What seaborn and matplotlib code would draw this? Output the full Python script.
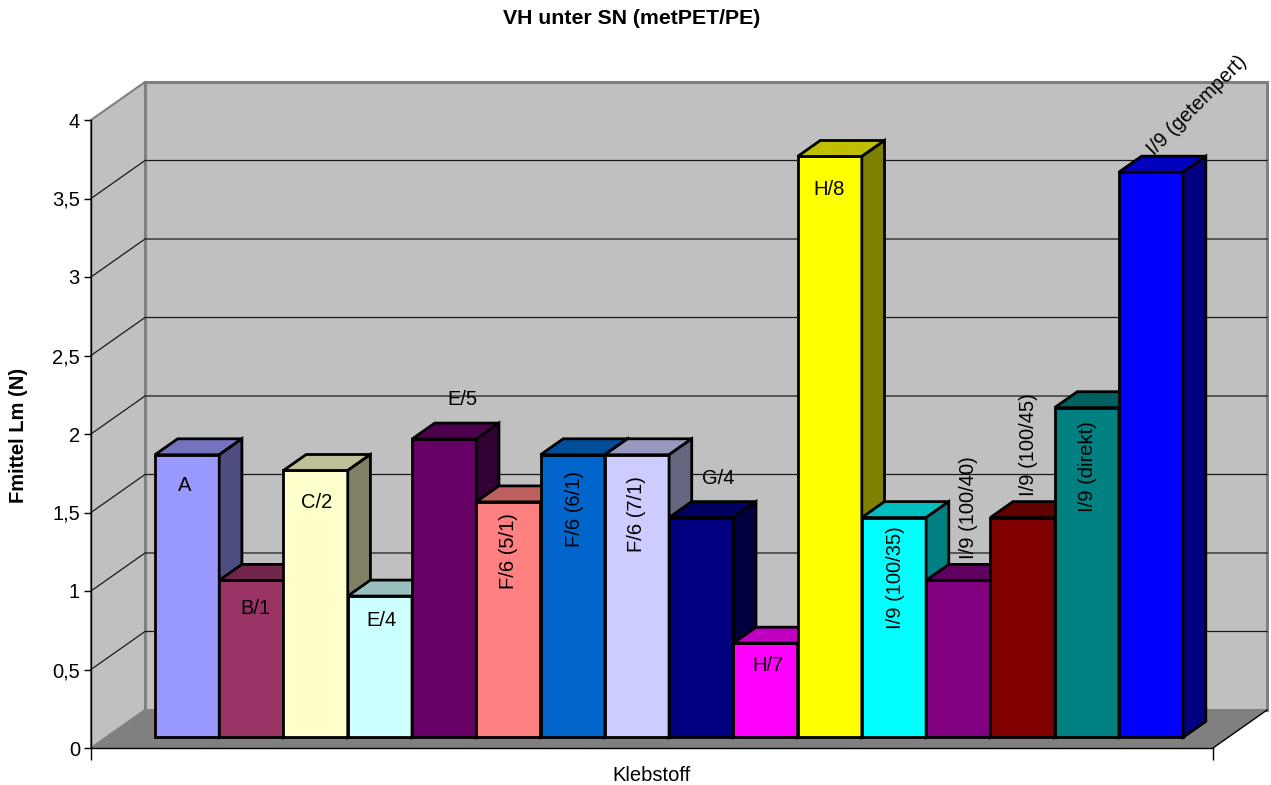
import numpy as np
import pandas as pd
import matplotlib
matplotlib.use("Agg")
import matplotlib.pyplot as plt
from matplotlib.patches import Polygon, Rectangle
from matplotlib.ticker import FuncFormatter
from matplotlib.colors import to_rgb
import seaborn as sns

# --- data -------------------------------------------------------------
names = ["A", "B/1", "C/2", "E/4", "E/5", "F/6 (5/1)", "F/6 (6/1)", "F/6 (7/1)",
         "G/4", "H/7", "H/8", "I/9 (100/35)", "I/9 (100/40)", "I/9 (100/45)",
         "I/9 (direkt)", "I/9 (getempert)"]
values = [1.8, 1.0, 1.7, 0.9, 1.9, 1.5, 1.8, 1.8, 1.4, 0.6, 3.7, 1.4, 1.0, 1.4, 2.1, 3.6]
colors = ["#9999FF", "#993366", "#FFFFCC", "#CCFFFF", "#660066", "#FF8080", "#0066CC",
          "#CCCCFF", "#000080", "#FF00FF", "#FFFF00", "#00FFFF", "#800080", "#800000",
          "#008080", "#0000FF"]
y_ticks = [0, 0.5, 1, 1.5, 2, 2.5, 3, 3.5, 4]

title = "VH unter SN (metPET/PE)"
x_label = "Klebstoff"
y_label = "Fmittel Lm (N)"

# data-label placement: offset in pixels from the front top centre of each bar
# (right, down) and rotation
label_layout = [(-2, 31, 0), (4, 28, 0), (1, 32, 0), (2, 24, 0), (18, -40, 0),
                (0, 49, 90), (2, 54, 90), (0, 59, 90), (17, -39, 0), (3, 22, 0),
                (-1, 33, 0), (2, 60, 90), (10, -73, 90), (6, -73, 90), (1, 59, 90),
                (46, -67, 45)]

# --- style ------------------------------------------------------------
plt.rcParams["font.family"] = ["Liberation Sans", "DejaVu Sans"]
FS = 14.5
EDGE = 2.0
W, H, DPI = 1271, 785, 100

fig = plt.figure(figsize=(W / DPI, H / DPI), dpi=DPI)
# axes box = front edge of the floor / front plane of the value axis
ax_l, ax_r, ax_t, ax_b = 91, 1213, 120, 748
ax = fig.add_axes([ax_l / W, (H - ax_b) / H, (ax_r - ax_l) / W, (ax_b - ax_t) / H])
ax.set_facecolor("white")

df = pd.DataFrame({"Klebstoff": names, "Fmittel": values})
sns.barplot(data=df, x="Klebstoff", y="Fmittel", hue="Klebstoff",
            palette=dict(zip(names, colors)), saturation=1, width=1.0,
            edgecolor="black", linewidth=EDGE, legend=False, ax=ax)
bars = sorted([p for p in ax.patches if isinstance(p, Rectangle)], key=lambda p: p.get_x())

# axis limits (category axis spans the whole floor)
XL0, XL1 = -1.26, 16.20
ax.set_xlim(XL0, XL1)
ax.set_ylim(0, 4)

# depth vector of the 3-D box in data units
px_x = (ax_r - ax_l) / (XL1 - XL0)
px_y = (ax_b - ax_t) / 4.0
DX, DY = 54 / px_x, 38 / px_y
F0, F1 = 0.28, 0.70          # bar front / back plane as fraction of depth

# walls and floor
side_wall = Polygon([(XL0, 0), (XL0, 4), (XL0 + DX, 4 + DY), (XL0 + DX, DY)],
                    closed=True, facecolor="#C0C0C0", edgecolor="#808080",
                    linewidth=1.5, zorder=0.5, clip_on=False)
back_wall = Polygon([(XL0 + DX, DY), (XL0 + DX, 4 + DY), (XL1 + DX, 4 + DY), (XL1 + DX, DY)],
                    closed=True, facecolor="#C0C0C0", edgecolor="#808080",
                    linewidth=2.2, zorder=0.6, clip_on=False)
floor = Polygon([(XL0, 0), (XL0 + DX, DY), (XL1 + DX, DY), (XL1, 0)],
                closed=True, facecolor="#808080", edgecolor="none",
                zorder=1.2, clip_on=False)
for p in (side_wall, back_wall, floor):
    ax.add_patch(p)
ax.plot([XL1, XL1 + DX], [0, DY], color="black", lw=1.0, zorder=1.3, clip_on=False)

# gridlines: diagonal on the side wall, horizontal on the back wall
for v in y_ticks[1:-1]:
    ax.plot([XL0, XL0 + DX, XL1 + DX], [v, v + DY, v + DY], color="#1a1a1a",
            lw=0.9, zorder=1.0, clip_on=False)

# 3-D bars: shift front faces onto the bar plane, then add top and side faces
bd = F1 - F0
for i, p in enumerate(bars):
    x0 = p.get_x() + F0 * DX
    y0 = F0 * DY
    w, h = p.get_width(), p.get_height()
    p.set_x(x0)
    p.set_y(y0)
    p.set_zorder(3 + i)
    p.set_clip_on(False)
    base = np.array(to_rgb(p.get_facecolor()))
    top = Polygon([(x0, y0 + h), (x0 + bd * DX, y0 + h + bd * DY),
                   (x0 + w + bd * DX, y0 + h + bd * DY), (x0 + w, y0 + h)],
                  closed=True, facecolor=base * 0.75, edgecolor="black",
                  linewidth=EDGE, joinstyle="miter", zorder=3 + i + 0.1, clip_on=False)
    side = Polygon([(x0 + w, y0), (x0 + w, y0 + h), (x0 + w + bd * DX, y0 + h + bd * DY),
                    (x0 + w + bd * DX, y0 + bd * DY)],
                   closed=True, facecolor=base * 0.5, edgecolor="black",
                   linewidth=EDGE, joinstyle="miter", zorder=3 + i + 0.2, clip_on=False)
    ax.add_patch(top)
    ax.add_patch(side)

    dx, dy, rot = label_layout[i]
    ax.annotate(names[i], xy=(x0 + w / 2, y0 + h), xytext=(dx * 0.72, -dy * 0.72),
                textcoords="offset points", ha="center", va="center",
                rotation=rot, rotation_mode="anchor", fontsize=FS,
                color="black", zorder=100, annotation_clip=False)

# axes, ticks and labels
for s in ("top", "right"):
    ax.spines[s].set_visible(False)
for s in ("left", "bottom"):
    ax.spines[s].set_color("black")
    ax.spines[s].set_linewidth(1.0)
    ax.spines[s].set_zorder(2.5)

ax.set_yticks(y_ticks)
ax.yaxis.set_major_formatter(FuncFormatter(lambda v, _: f"{v:g}".replace(".", ",")))
ax.tick_params(axis="y", length=5, width=1, pad=3, labelsize=FS, color="black")
ax.set_xticks([XL0, XL1], labels=["", ""])
ax.tick_params(axis="x", length=8.6, width=1, color="black")

ax.set_xlabel(x_label, fontsize=FS)
ax.xaxis.set_label_coords(0.5, -0.043)
ax.xaxis.label.set_va("center")
ax.set_ylabel(y_label, fontsize=FS, fontweight="bold")
ax.yaxis.set_label_coords(-0.065, 0.497)
ax.yaxis.label.set_va("center")

fig.text(0.497, 1 - 18 / H, title, ha="center", va="center",
         fontsize=15.3, fontweight="bold")

fig.savefig("out.png", dpi=DPI, facecolor="white")
